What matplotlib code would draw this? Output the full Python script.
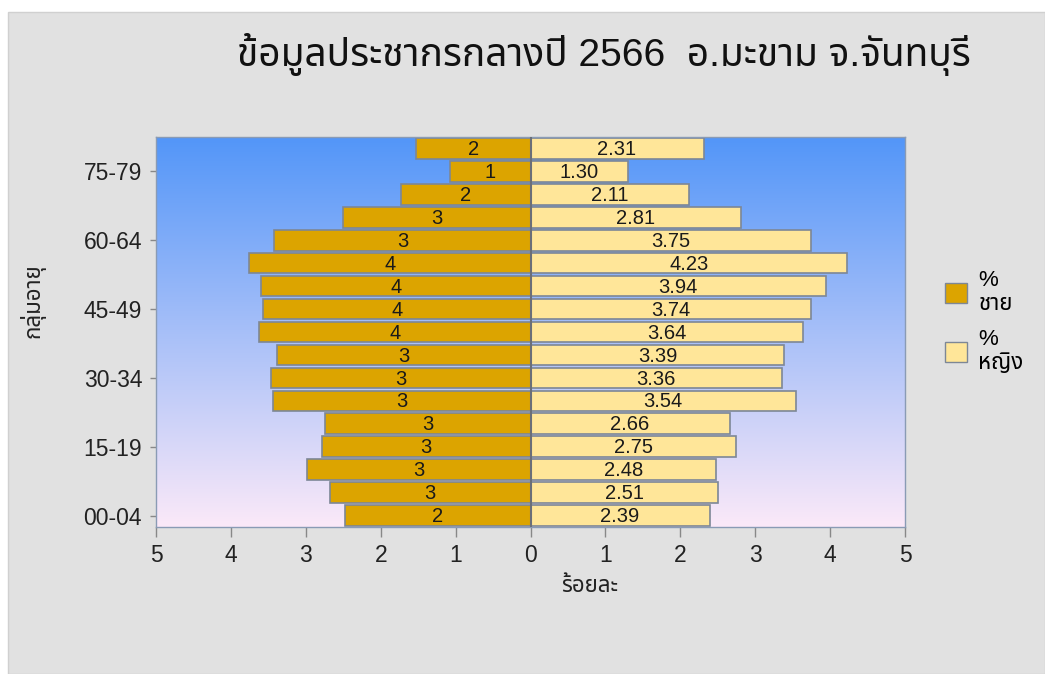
import numpy as np
import matplotlib
matplotlib.use("Agg")
import matplotlib.pyplot as plt
from matplotlib import font_manager as fm
from matplotlib.ft2font import FT2Font
from matplotlib.colors import LinearSegmentedColormap
from matplotlib.patches import Rectangle, Patch

# data (percent of population, bottom group first)
age_groups = ["00-04", "05-09", "10-14", "15-19", "20-24", "25-29", "30-34", "35-39",
              "40-44", "45-49", "50-54", "55-59", "60-64", "65-69", "70-74", "75-79", "80+"]
male_pct = [2.48, 2.68, 2.98, 2.79, 2.75, 3.44, 3.47, 3.38,
            3.62, 3.57, 3.60, 3.76, 3.42, 2.51, 1.73, 1.08, 1.53]
female_pct = [2.39, 2.51, 2.48, 2.75, 2.66, 3.54, 3.36, 3.39,
              3.64, 3.74, 3.94, 4.23, 3.75, 2.81, 2.11, 1.30, 2.31]
x_ticks = [-5, -4, -3, -2, -1, 0, 1, 2, 3, 4, 5]

title = "ข้อมูลประชากรกลางปี 2566  อ.มะขาม จ.จันทบุรี"
male_label = "%\nชาย"
female_label = "%\nหญิง"


def find_thai_font():
    # look for any installed font that has Thai glyphs
    found = []
    for f in fm.fontManager.ttflist:
        try:
            cmap = FT2Font(f.fname).get_charmap()
        except Exception:
            continue
        if 0x0E02 in cmap and 0x0E2D in cmap:
            found.append(f.name)
    for pref in ["Noto Sans Thai", "Noto Sans Thai UI", "Loma", "Garuda", "Tlwg Typo", "Norasi"]:
        if pref in found:
            return pref
    return found[0] if found else None


thai = find_thai_font()
families = ["Liberation Sans"]
if thai:
    families.append(thai)
families.append("DejaVu Sans")
plt.rcParams["font.family"] = families

W, H = 1045, 674
fig = plt.figure(figsize=(W / 100, H / 100), dpi=100)
fig.patch.set_facecolor("white")

# grey backdrop of the picture
fig.patches.append(Rectangle((8 / W, 0.0), 1 - 8 / W, 1 - 12 / H, transform=fig.transFigure,
                             facecolor="#e1e1e1", edgecolor="#d0d0d0", lw=1, zorder=-10))

left, right, top, bottom = 156, 905, 137, 527
ax = fig.add_axes([left / W, 1 - bottom / H, (right - left) / W, (bottom - top) / H])

# gradient plot area
cmap = LinearSegmentedColormap.from_list("bg", ["#fbe9f9", "#5396f8"])
grad = np.linspace(0, 1, 256).reshape(-1, 1)
ax.imshow(grad, cmap=cmap, aspect="auto", origin="lower",
          extent=[-5, 5, -0.5, len(age_groups) - 0.5], zorder=0)

y = np.arange(len(age_groups))
male_vals = -np.array(male_pct)
bars_m = ax.barh(y, male_vals, height=0.9, color="#dca400", edgecolor="#7d8796", linewidth=1.2, zorder=2)
bars_f = ax.barh(y, female_pct, height=0.9, color="#ffe699", edgecolor="#7d8796", linewidth=1.2, zorder=2)
ax.axvline(0, color="#6b6f78", lw=1.5, zorder=3)

for b, v in zip(bars_m, male_pct):
    ax.text(b.get_x() + b.get_width() / 2, b.get_y() + b.get_height() / 2 - 0.05, f"{v:.0f}",
            ha="center", va="center", fontsize=14.5, color="#1a1a1a", zorder=4)
for b, v in zip(bars_f, female_pct):
    ax.text(b.get_x() + b.get_width() / 2, b.get_y() + b.get_height() / 2 - 0.05, f"{v:.2f}",
            ha="center", va="center", fontsize=14.5, color="#1a1a1a", zorder=4)

ax.set_xlim(-5, 5)
ax.set_ylim(-0.5, len(age_groups) - 0.5)
ax.set_xticks(x_ticks)
ax.set_xticklabels([str(abs(t)) for t in x_ticks], fontsize=16.5, color="#222222")
ax.set_yticks(y[::3])
ax.set_yticklabels(age_groups[::3], fontsize=16.5, color="#222222")
ax.tick_params(axis="x", length=7, width=1, color="#888888", pad=5)
ax.tick_params(axis="y", length=4, width=1, color="#888888", pad=6)
for s in ax.spines.values():
    s.set_color("#8a9bb5")
    s.set_linewidth(1)

ax.set_xlabel("ร้อยละ", fontsize=16, fontweight="bold", color="#222222")
ax.xaxis.set_label_coords((590 - left) / (right - left), -0.125)
ax.set_ylabel("กลุ่มอายุ", fontsize=16, fontweight="bold", color="#222222")
ax.yaxis.set_label_coords(-0.148, 0.58)

fig.text(604 / W, 1 - 55 / H, title, ha="center", va="center", fontsize=28, color="#111111")

handles = [Patch(facecolor="#dca400", edgecolor="#7d8796"),
           Patch(facecolor="#ffe699", edgecolor="#7d8796")]
fig.legend(handles, [male_label, female_label], loc="center left",
           bbox_to_anchor=(925 / W, 1 - 322 / H), frameon=False, fontsize=16,
           handlelength=1.0, handleheight=1.0, handletextpad=0.5, labelspacing=0.6)

fig.savefig("out.png", dpi=100, facecolor=fig.get_facecolor())
